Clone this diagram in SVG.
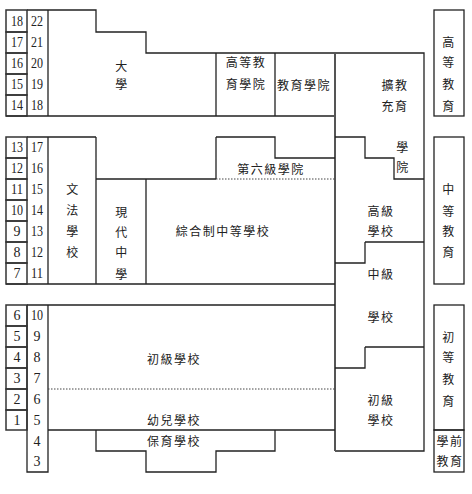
<svg xmlns="http://www.w3.org/2000/svg" width="472" height="494" viewBox="0 0 472 494">
<style>
.ln{fill:none;stroke:#222;stroke-width:1.3}
.thick{fill:none;stroke:#555;stroke-width:2}
.cell{fill:none;stroke:#333;stroke-width:1.5}
.dot{fill:none;stroke:#444;stroke-width:1;stroke-dasharray:1.5 1.5}
.num{font-family:"Liberation Serif",serif;font-size:14px;fill:#222;text-anchor:middle}
.cj{font-family:"Noto Sans CJK TC","Noto Sans CJK SC",sans-serif;font-size:12px;fill:#222;text-anchor:middle;letter-spacing:1.5px}
</style>
<rect width="472" height="494" fill="#fff"/>
<g id="connectors">
<!-- top block -->
<path class="ln" d="M27,10 H96 V32 H146 V53 H424 V451 H335"/>
<path class="ln" d="M48,10 V116 M216,53 V116 M275,53 V116 M6,116 H335"/>
<path class="thick" d="M335,53 V451"/>
<!-- middle block -->
<path class="ln" d="M27,137 H96 M48,137 V284 M96,137 V284 M96,179 H216 M146,179 V284 M216,137 V179 M216,137 H275 V158 H335 M6,284 H335"/>
<path class="dot" d="M216,179 H335"/>
<!-- right column steps -->
<path class="ln" d="M335,137 H365 V158 H394 V179 H424 M365,242 H424 M365,242 V263 H335 M365,347 H424 M365,347 V368 H335"/>
<!-- bottom block -->
<path class="ln" d="M27,305 H335 M27,305 V472 H48 V305 M48,430 H335 M96,430 V451 H146 V472 H216 V451 H275 V430"/>
<path class="dot" d="M48,389 H335"/>
</g>
<g id="age-cols">
<rect class="cell" x="6" y="10" width="21" height="22"/>
<rect class="cell" x="6" y="32" width="21" height="21"/>
<rect class="cell" x="6" y="53" width="21" height="21"/>
<rect class="cell" x="6" y="74" width="21" height="21"/>
<rect class="cell" x="6" y="95" width="21" height="21"/>
<rect class="cell" x="6" y="137" width="21" height="21"/>
<rect class="cell" x="6" y="158" width="21" height="21"/>
<rect class="cell" x="6" y="179" width="21" height="21"/>
<rect class="cell" x="6" y="200" width="21" height="21"/>
<rect class="cell" x="6" y="221" width="21" height="21"/>
<rect class="cell" x="6" y="242" width="21" height="21"/>
<rect class="cell" x="6" y="263" width="21" height="21"/>
<rect class="cell" x="6" y="305" width="21" height="21"/>
<rect class="cell" x="6" y="326" width="21" height="21"/>
<rect class="cell" x="6" y="347" width="21" height="21"/>
<rect class="cell" x="6" y="368" width="21" height="21"/>
<rect class="cell" x="6" y="389" width="21" height="21"/>
<rect class="cell" x="6" y="410" width="21" height="20"/>
<g class="num">
<text x="17" y="26" textLength="12" lengthAdjust="spacingAndGlyphs">18</text>
<text x="17" y="47" textLength="12" lengthAdjust="spacingAndGlyphs">17</text>
<text x="17" y="68" textLength="12" lengthAdjust="spacingAndGlyphs">16</text>
<text x="17" y="89" textLength="12" lengthAdjust="spacingAndGlyphs">15</text>
<text x="17" y="110" textLength="12" lengthAdjust="spacingAndGlyphs">14</text>
<text x="37" y="26" textLength="12" lengthAdjust="spacingAndGlyphs">22</text>
<text x="37" y="47" textLength="12" lengthAdjust="spacingAndGlyphs">21</text>
<text x="37" y="68" textLength="12" lengthAdjust="spacingAndGlyphs">20</text>
<text x="37" y="89" textLength="12" lengthAdjust="spacingAndGlyphs">19</text>
<text x="37" y="110" textLength="12" lengthAdjust="spacingAndGlyphs">18</text>
<text x="17" y="152" textLength="12" lengthAdjust="spacingAndGlyphs">13</text>
<text x="17" y="173" textLength="12" lengthAdjust="spacingAndGlyphs">12</text>
<text x="17" y="194" textLength="12" lengthAdjust="spacingAndGlyphs">11</text>
<text x="17" y="215" textLength="12" lengthAdjust="spacingAndGlyphs">10</text>
<text x="17" y="236">9</text>
<text x="17" y="257">8</text>
<text x="17" y="278">7</text>
<text x="37" y="152" textLength="12" lengthAdjust="spacingAndGlyphs">17</text>
<text x="37" y="173" textLength="12" lengthAdjust="spacingAndGlyphs">16</text>
<text x="37" y="194" textLength="12" lengthAdjust="spacingAndGlyphs">15</text>
<text x="37" y="215" textLength="12" lengthAdjust="spacingAndGlyphs">14</text>
<text x="37" y="236" textLength="12" lengthAdjust="spacingAndGlyphs">13</text>
<text x="37" y="257" textLength="12" lengthAdjust="spacingAndGlyphs">12</text>
<text x="37" y="278" textLength="12" lengthAdjust="spacingAndGlyphs">11</text>
<text x="17" y="320">6</text>
<text x="17" y="341">5</text>
<text x="17" y="362">4</text>
<text x="17" y="383">3</text>
<text x="17" y="404">2</text>
<text x="17" y="425">1</text>
<text x="37" y="320" textLength="12" lengthAdjust="spacingAndGlyphs">10</text>
<text x="37" y="341">9</text>
<text x="37" y="362">8</text>
<text x="37" y="383">7</text>
<text x="37" y="404">6</text>
<text x="37" y="425">5</text>
<text x="37" y="446">4</text>
<text x="37" y="466">3</text>
</g>
</g>
<g id="daxue" class="cj"><text x="122" y="71">大</text><text x="122" y="89">學</text></g>
<g id="gaodeng-jiaoyu-xueyuan" class="cj"><text x="246" y="67">高等教</text><text x="246" y="89">育學院</text></g>
<g id="jiaoyu-xueyuan" class="cj"><text x="304" y="90">教育學院</text></g>
<g id="kuochong-jiaoyu" class="cj"><text x="395" y="90">擴教</text><text x="395" y="111">充育</text><text x="403" y="152">學</text><text x="403" y="172">院</text></g>
<g id="side-higher"><rect class="ln" x="434" y="10" width="30" height="106"/><g class="cj"><text x="449" y="47">高</text><text x="449" y="67">等</text><text x="449" y="89">教</text><text x="449" y="111">育</text></g></g>
<g id="diliuji-xueyuan" class="cj"><text x="271" y="174">第六級學院</text></g>
<g id="wenfa-xuexiao" class="cj"><text x="73" y="194">文</text><text x="73" y="215">法</text><text x="73" y="236">學</text><text x="73" y="257">校</text></g>
<g id="xiandai-zhongxue" class="cj"><text x="122" y="217">現</text><text x="122" y="237">代</text><text x="122" y="257">中</text><text x="122" y="279">學</text></g>
<g id="zonghe-zhongxue" class="cj"><text x="223" y="236">綜合制中等學校</text></g>
<g id="gaoji-xuexiao" class="cj"><text x="381" y="216">高級</text><text x="381" y="236">學校</text></g>
<g id="zhongji-xuexiao" class="cj"><text x="381" y="279">中級</text><text x="381" y="322">學校</text></g>
<g id="side-secondary"><rect class="ln" x="434" y="137" width="30" height="147"/><g class="cj"><text x="449" y="194">中</text><text x="449" y="216">等</text><text x="449" y="236">教</text><text x="449" y="257">育</text></g></g>
<g id="chuji-xuexiao" class="cj"><text x="174" y="364">初級學校</text></g>
<g id="youer-xuexiao" class="cj"><text x="174" y="425">幼兒學校</text></g>
<g id="baoyu-xuexiao" class="cj"><text x="174" y="446">保育學校</text></g>
<g id="chuji-xuexiao-right" class="cj"><text x="381" y="405">初級</text><text x="381" y="425">學校</text></g>
<g id="side-primary"><rect class="ln" x="434" y="305" width="30" height="125"/><g class="cj"><text x="449" y="342">初</text><text x="449" y="362">等</text><text x="449" y="384">教</text><text x="449" y="406">育</text></g></g>
<g id="side-preschool"><rect class="ln" x="434" y="430" width="30" height="42"/><g class="cj"><text x="450" y="446">學前</text><text x="450" y="466">教育</text></g></g>
</svg>
